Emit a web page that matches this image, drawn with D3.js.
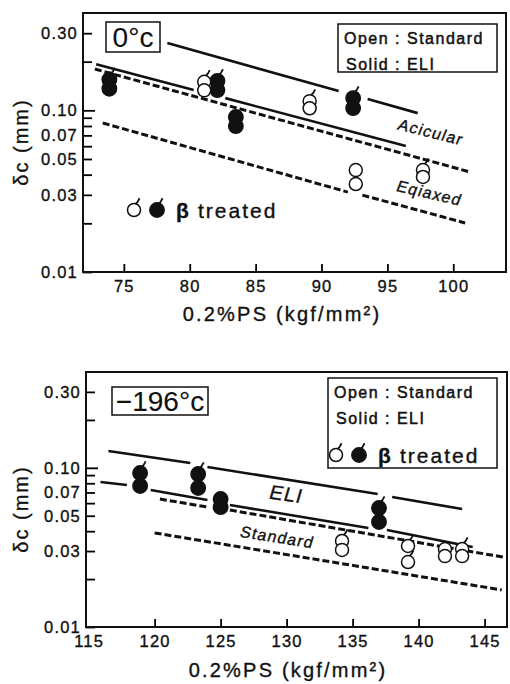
<!DOCTYPE html>
<html>
<head>
<meta charset="utf-8">
<script src="https://cdn.jsdelivr.net/npm/d3@7"></script>
<style>
  body { margin: 0; background: #fff; }
  svg { display: block; font-family: "Liberation Sans", Arial, sans-serif; }
  svg text { stroke: #111; stroke-width: 0.35px; }
</style>
</head>
<body>
<div id="wrapper"></div>
<script>
// ---- data ----
const yTicksLabeled = [0.01, 0.03, 0.05, 0.07, 0.1, 0.3];
const yTicksMinor = [0.02, 0.04, 0.06, 0.08, 0.09, 0.2];
const zeroXTicks = [75, 80, 85, 90, 95, 100];
const cryoXTicks = [115, 120, 125, 130, 135, 140, 145];

// points: [0.2%PS, δc (mm), β treated flag]
const zeroStandard = [
  [81.1, 0.150, 1], [81.1, 0.133, 0],
  [89.1, 0.114, 1], [89.1, 0.103, 0],
  [92.6, 0.0427, 0], [92.6, 0.035, 0],
  [97.7, 0.0427, 1], [97.7, 0.0387, 0],
];
const zeroEli = [
  [73.9, 0.155, 1], [73.9, 0.136, 0],
  [82.1, 0.152, 1], [82.1, 0.1335, 0],
  [83.5, 0.0909, 0], [83.5, 0.0799, 0],
  [92.4, 0.119, 1], [92.4, 0.1033, 0],
];
const cryoStandard = [
  [134.2, 0.0347, 1], [134.2, 0.0305, 0],
  [139.2, 0.0323, 1], [139.2, 0.0256, 1],
  [142.0, 0.0309, 0], [142.0, 0.0279, 0],
  [143.3, 0.0309, 1], [143.3, 0.0279, 0],
];
const cryoEli = [
  [118.9, 0.0927, 1], [118.9, 0.0769, 0],
  [123.3, 0.0914, 1], [123.3, 0.0747, 1],
  [125.0, 0.0637, 0], [125.0, 0.0567, 0],
  [137.0, 0.0559, 1], [137.0, 0.0457, 1],
];

// trend line pieces: [x1, y1, x2, y2]
const zeroSolid = [
  [78.3, 0.261, 91.3, 0.1315], [93.5, 0.1175, 97.3, 0.0961],
  [72.9, 0.193, 80.3, 0.1335], [82.7, 0.119, 96.4, 0.0601],
];
const zeroDashed = [
  [72.8, 0.180, 101.3, 0.0415],
  [73.4, 0.0835, 92.0, 0.0312], [93.1, 0.0299, 100.9, 0.0201],
];
const cryoSolid = [
  [116.5, 0.1275, 122.7, 0.1072], [124.0, 0.1012, 136.9, 0.0684], [138.0, 0.0656, 143.3, 0.0551],
  [115.9, 0.0814, 117.9, 0.078], [119.7, 0.0726, 124.0, 0.0628],
  [125.7, 0.0584, 136.2, 0.0419], [137.6, 0.0407, 144.1, 0.0318],
];
const cryoDashed = [
  [120.4, 0.0637, 124.0, 0.0567], [125.7, 0.0543, 146.4, 0.0275],
  [120.0, 0.039, 146.3, 0.0171],
];

// ---- drawing ----
const svg = d3.select("#wrapper").append("svg").attr("width", 510).attr("height", 684);

function drawPanel(cfg) {
  const x = d3.scaleLinear().domain(cfg.xDomain).range([cfg.left, cfg.right]);
  const y = d3.scaleLog().domain([0.01, 0.4]).range([cfg.bottom, cfg.top]);
  const g = svg.append("g");

  // y axis, labeled ticks
  const yAxis = g.append("g")
    .attr("transform", `translate(${cfg.left},0)`)
    .call(d3.axisLeft(y).tickValues(yTicksLabeled).tickFormat(d3.format(".2f")).tickSize(-9).tickPadding(5));
  yAxis.select(".domain").remove();
  yAxis.selectAll(".tick line").attr("x2", (d) => (d === 0.1 ? 12 : 9)).attr("stroke-width", 1.8);
  yAxis.selectAll("text").attr("font-size", 16.5).attr("letter-spacing", 1.2).attr("fill", "#111");
  yAxis.attr("font-family", null);

  // y axis, minor ticks
  const yMinor = g.append("g")
    .attr("transform", `translate(${cfg.left},0)`)
    .call(d3.axisLeft(y).tickValues(yTicksMinor).tickFormat("").tickSize(-9));
  yMinor.select(".domain").remove();
  yMinor.selectAll(".tick line").attr("stroke-width", 1.8);

  // x axis
  const xAxis = g.append("g")
    .attr("transform", `translate(0,${cfg.bottom})`)
    .call(d3.axisBottom(x).tickValues(cfg.xTicks).tickSize(-8).tickPadding(4));
  xAxis.select(".domain").remove();
  xAxis.selectAll(".tick line").attr("stroke-width", 1.8).attr("y2", (d) => (d === 115 ? 0 : -8));
  xAxis.selectAll("text").attr("font-size", 16.5).attr("letter-spacing", 1.2).attr("fill", "#111")
    .attr("dy", "0.95em");
  xAxis.attr("font-family", null);

  // frame
  g.append("rect")
    .attr("x", cfg.left).attr("y", cfg.top)
    .attr("width", cfg.right - cfg.left).attr("height", cfg.bottom - cfg.top)
    .attr("fill", "none").attr("stroke", "#111").attr("stroke-width", 2);

  // axis titles
  g.append("text")
    .attr("x", cfg.titleX).attr("y", cfg.titleY)
    .attr("text-anchor", "middle").attr("font-size", 20).attr("letter-spacing", 2.2)
    .attr("fill", "#111")
    .text("0.2%PS (kgf/mm²)");
  g.append("text")
    .attr("transform", `translate(28,${cfg.yTitleY}) rotate(-90)`)
    .attr("text-anchor", "middle").attr("font-size", 20).attr("letter-spacing", 2)
    .attr("fill", "#111")
    .text("δc (mm)");

  // lines
  g.selectAll(".solid").data(cfg.solid).enter().append("line")
    .attr("x1", (d) => x(d[0])).attr("y1", (d) => y(d[1]))
    .attr("x2", (d) => x(d[2])).attr("y2", (d) => y(d[3]))
    .attr("stroke", "#111").attr("stroke-width", 2.6);
  g.selectAll(".dashed").data(cfg.dashed).enter().append("line")
    .attr("x1", (d) => x(d[0])).attr("y1", (d) => y(d[1]))
    .attr("x2", (d) => x(d[2])).attr("y2", (d) => y(d[3]))
    .attr("stroke", "#111").attr("stroke-width", 3).attr("stroke-dasharray", "7,3");

  // points
  drawPoints(g, cfg.eli.map((d) => ({ cx: x(d[0]), cy: y(d[1]), flag: d[2], solid: true })));
  drawPoints(g, cfg.standard.map((d) => ({ cx: x(d[0]), cy: y(d[1]), flag: d[2], solid: false })));

  // line names
  cfg.notes.forEach((n) => {
    g.append("text")
      .attr("transform", `translate(${x(n.x)},${y(n.y)}) rotate(${n.angle}) skewX(-8)`)
      .attr("text-anchor", "middle").attr("dy", "0.35em")
      .attr("font-size", n.size).attr("letter-spacing", 1.2).attr("fill", "#111")
      .text(n.text);
  });

  return { x, y, g };
}

function drawPoints(g, pts) {
  const r = 6.5;
  const sel = g.append("g").selectAll("g").data(pts).enter().append("g")
    .attr("transform", (d) => `translate(${d.cx},${d.cy})`);
  sel.append("circle")
    .attr("r", (d) => (d.solid ? r + 0.7 : r))
    .attr("fill", (d) => (d.solid ? "#111" : "#fff"))
    .attr("stroke", "#111").attr("stroke-width", 1.5);
  sel.filter((d) => d.flag).append("path")
    .attr("d", `M${r * 0.25},${-r * 0.95} L${r * 0.55},${-r * 1.25} L${r * 0.85},${-r * 1.8}`)
    .attr("fill", "none")
    .attr("stroke", "#111").attr("stroke-width", 1.8);
}

function tempBox(g, x0, y0, w, h, label) {
  g.append("rect").attr("x", x0).attr("y", y0).attr("width", w).attr("height", h)
    .attr("fill", "#fff").attr("stroke", "#111").attr("stroke-width", 1.5);
  g.append("text").attr("x", x0 + w / 2).attr("y", y0 + h / 2).attr("dy", "0.36em")
    .attr("text-anchor", "middle").attr("font-size", 28).attr("fill", "#111")
    .style("stroke-width", "0.1px")
    .text(label);
}

function betaKey(g, x0, yc, size) {
  drawPoints(g, [{ cx: x0, cy: yc, flag: 1, solid: false }, { cx: x0 + 23, cy: yc, flag: 1, solid: true }]);
  g.append("text").attr("x", x0 + 42).attr("y", yc).attr("dy", "0.36em")
    .attr("font-size", size).attr("font-weight", "bold").attr("fill", "#111").text("β");
  g.append("text").attr("x", x0 + 64).attr("y", yc).attr("dy", "0.36em")
    .attr("font-size", size).attr("letter-spacing", 2).attr("fill", "#111").text("treated");
}

function legendBox(g, x0, y0, w, h, rows) {
  g.append("rect").attr("x", x0).attr("y", y0).attr("width", w).attr("height", h)
    .attr("fill", "#fff").attr("stroke", "#111").attr("stroke-width", 1.5);
  rows.forEach((t, i) => {
    g.append("text").attr("x", x0 + 6 + i * 2).attr("y", y0 + 14 + i * 26).attr("dy", "0.36em")
      .attr("font-size", 16).attr("letter-spacing", 1.5).attr("fill", "#111")
      .style("stroke-width", "0.5px").text(t);
  });
}

// 0°C panel
const zero = drawPanel({
  left: 83, right: 506, top: 13, bottom: 272,
  xDomain: [71.9, 104], xTicks: zeroXTicks,
  titleX: 282, titleY: 321, yTitleY: 142,
  solid: zeroSolid, dashed: zeroDashed,
  eli: zeroEli, standard: zeroStandard,
  notes: [
    { text: "Acicular", x: 98.3, y: 0.0735, angle: 14, size: 16 },
    { text: "Eqiaxed", x: 98.2, y: 0.0308, angle: 13, size: 16 },
  ],
});
tempBox(zero.g, 106, 22, 54, 30, "0°c");
legendBox(zero.g, 338, 24, 159, 48, ["Open : Standard", "Solid : ELI"]);
betaKey(zero.g, 134, 210, 21);

// -196°C panel
const cryo = drawPanel({
  left: 86, right: 507, top: 372, bottom: 627,
  xDomain: [114.8, 146.7], xTicks: cryoXTicks,
  titleX: 288, titleY: 677, yTitleY: 509,
  solid: cryoSolid, dashed: cryoDashed,
  eli: cryoEli, standard: cryoStandard,
  notes: [
    { text: "ELI", x: 130.0, y: 0.0684, angle: 8, size: 20 },
    { text: "Standard", x: 129.3, y: 0.0367, angle: 9, size: 16 },
  ],
});
tempBox(cryo.g, 112, 387, 96, 28, "−196°c");
legendBox(cryo.g, 328, 378, 169, 90, ["Open : Standard", "Solid : ELI"]);
betaKey(cryo.g, 336, 455, 21);
</script>
</body>
</html>
